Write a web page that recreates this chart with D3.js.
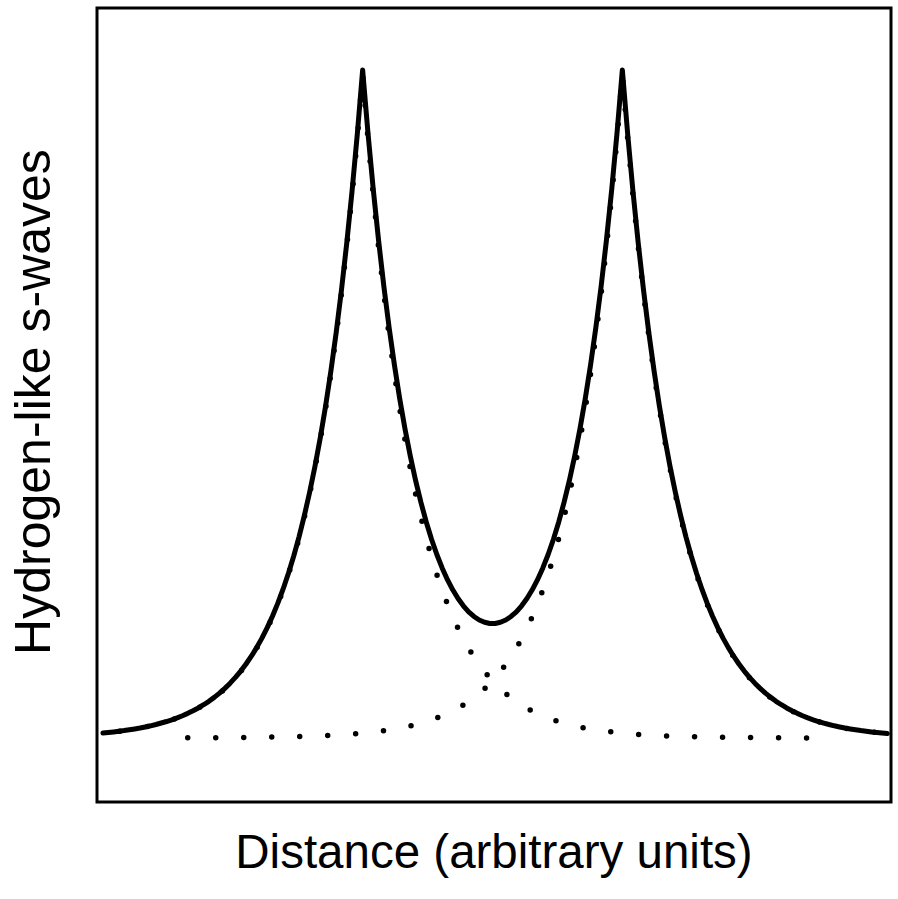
<!DOCTYPE html>
<html>
<head>
<meta charset="utf-8">
<script src="https://cdn.jsdelivr.net/npm/d3@7"></script>
<style>
  html, body { margin: 0; padding: 0; background: #fff; }
  svg { display: block; }
  text { font-family: "Liberation Sans", Arial, Helvetica, sans-serif; fill: #000; }
</style>
</head>
<body>
<svg id="chart" width="898" height="899"></svg>
<script>
// Sample positions (arbitrary distance units); nuclei at -2.45 and 2.45
const xs = [-7.35,-7.25,-7.15,-7.05,-6.95,-6.85,-6.75,-6.65,-6.55,-6.45,
-6.35,-6.25,-6.15,-6.05,-5.95,-5.85,-5.75,-5.65,-5.55,-5.45,
-5.35,-5.25,-5.15,-5.05,-4.95,-4.85,-4.75,-4.65,-4.55,-4.45,
-4.35,-4.25,-4.15,-4.05,-3.95,-3.85,-3.75,-3.65,-3.55,-3.45,
-3.35,-3.25,-3.15,-3.05,-2.95,-2.85,-2.75,-2.65,-2.55,-2.45,
-2.35,-2.25,-2.15,-2.05,-1.95,-1.85,-1.75,-1.65,-1.55,-1.45,
-1.35,-1.25,-1.15,-1.05,-0.95,-0.85,-0.75,-0.65,-0.55,-0.45,
-0.35,-0.25,-0.15,-0.05,0.05,0.15,0.25,0.35,0.45,0.55,
0.65,0.75,0.85,0.95,1.05,1.15,1.25,1.35,1.45,1.55,
1.65,1.75,1.85,1.95,2.05,2.15,2.25,2.35,2.45,2.55,
2.65,2.75,2.85,2.95,3.05,3.15,3.25,3.35,3.45,3.55,
3.65,3.75,3.85,3.95,4.05,4.15,4.25,4.35,4.45,4.55,
4.65,4.75,4.85,4.95,5.05,5.15,5.25,5.35,5.45,5.55,
5.65,5.75,5.85,5.95,6.05,6.15,6.25,6.35,6.45,6.55,
6.65,6.75,6.85,6.95,7.05,7.15,7.25,7.35,7.45];

// s-wave centred on the left nucleus (dotted)
const leftWave = [0.0074,0.0082,0.0091,0.0101,0.0111,0.0123,0.0136,0.0150,0.0166,0.0183,
0.0202,0.0224,0.0247,0.0273,0.0302,0.0334,0.0369,0.0408,0.0450,0.0498,
0.0550,0.0608,0.0672,0.0743,0.0821,0.0907,0.1003,0.1108,0.1225,0.1353,
0.1496,0.1653,0.1827,0.2019,0.2231,0.2466,0.2725,0.3012,0.3329,0.3679,
0.4066,0.4493,0.4966,0.5488,0.6065,0.6703,0.7408,0.8187,0.9048,1.0000,
0.9048,0.8187,0.7408,0.6703,0.6065,0.5488,0.4966,0.4493,0.4066,0.3679,
0.3329,0.3012,0.2725,0.2466,0.2231,0.2019,0.1827,0.1653,0.1496,0.1353,
0.1225,0.1108,0.1003,0.0907,0.0821,0.0743,0.0672,0.0608,0.0550,0.0498,
0.0450,0.0408,0.0369,0.0334,0.0302,0.0273,0.0247,0.0224,0.0202,0.0183,
0.0166,0.0150,0.0136,0.0123,0.0111,0.0101,0.0091,0.0082,0.0074,0.0067,
0.0061,0.0055,0.0050,0.0045,0.0041,0.0037,0.0033,0.0030,0.0027,0.0025,
0.0022,0.0020,0.0018,0.0017,0.0015,0.0014,0.0012,0.0011,0.0010,0.0009,
0.0008,0.0007,0.0007,0.0006,0.0006,0.0005,0.0005,0.0004,0.0004,0.0003,
0.0003,0.0003,0.0002,0.0002,0.0002,0.0002,0.0002,0.0002,0.0001,0.0001,
0.0001,0.0001,0.0001,0.0001,0.0001,0.0001,0.0001,0.0001,0.0001];

// s-wave centred on the right nucleus (dotted)
const rightWave = [0.0001,0.0001,0.0001,0.0001,0.0001,0.0001,0.0001,0.0001,0.0001,0.0001,
0.0002,0.0002,0.0002,0.0002,0.0002,0.0002,0.0003,0.0003,0.0003,0.0004,
0.0004,0.0005,0.0005,0.0006,0.0006,0.0007,0.0007,0.0008,0.0009,0.0010,
0.0011,0.0012,0.0014,0.0015,0.0017,0.0018,0.0020,0.0022,0.0025,0.0027,
0.0030,0.0033,0.0037,0.0041,0.0045,0.0050,0.0055,0.0061,0.0067,0.0074,
0.0082,0.0091,0.0101,0.0111,0.0123,0.0136,0.0150,0.0166,0.0183,0.0202,
0.0224,0.0247,0.0273,0.0302,0.0334,0.0369,0.0408,0.0450,0.0498,0.0550,
0.0608,0.0672,0.0743,0.0821,0.0907,0.1003,0.1108,0.1225,0.1353,0.1496,
0.1653,0.1827,0.2019,0.2231,0.2466,0.2725,0.3012,0.3329,0.3679,0.4066,
0.4493,0.4966,0.5488,0.6065,0.6703,0.7408,0.8187,0.9048,1.0000,0.9048,
0.8187,0.7408,0.6703,0.6065,0.5488,0.4966,0.4493,0.4066,0.3679,0.3329,
0.3012,0.2725,0.2466,0.2231,0.2019,0.1827,0.1653,0.1496,0.1353,0.1225,
0.1108,0.1003,0.0907,0.0821,0.0743,0.0672,0.0608,0.0550,0.0498,0.0450,
0.0408,0.0369,0.0334,0.0302,0.0273,0.0247,0.0224,0.0202,0.0183,0.0166,
0.0150,0.0136,0.0123,0.0111,0.0101,0.0091,0.0082,0.0074,0.0067];

// Combined wave (solid)
const combinedWave = [0.0075,0.0083,0.0092,0.0102,0.0112,0.0124,0.0137,0.0151,0.0167,0.0184,
0.0204,0.0226,0.0249,0.0275,0.0304,0.0336,0.0372,0.0411,0.0453,0.0502,
0.0554,0.0613,0.0677,0.0749,0.0827,0.0914,0.1010,0.1116,0.1234,0.1363,
0.1507,0.1665,0.1841,0.2034,0.2248,0.2484,0.2745,0.3034,0.3354,0.3706,
0.4096,0.4526,0.5003,0.5529,0.6110,0.6753,0.7463,0.8248,0.9115,1.0074,
0.9130,0.8278,0.7509,0.6814,0.6188,0.5624,0.5116,0.4659,0.4249,0.3881,
0.3553,0.3259,0.2998,0.2768,0.2565,0.2388,0.2235,0.2103,0.1994,0.1903,
0.1833,0.1780,0.1746,0.1728,0.1728,0.1746,0.1780,0.1833,0.1903,0.1994,
0.2103,0.2235,0.2388,0.2565,0.2768,0.2998,0.3259,0.3553,0.3881,0.4249,
0.4659,0.5116,0.5624,0.6188,0.6814,0.7509,0.8278,0.9130,1.0074,0.9115,
0.8248,0.7463,0.6753,0.6110,0.5529,0.5003,0.4526,0.4096,0.3706,0.3354,
0.3034,0.2745,0.2484,0.2248,0.2034,0.1841,0.1665,0.1507,0.1363,0.1234,
0.1116,0.1010,0.0914,0.0827,0.0749,0.0677,0.0613,0.0554,0.0502,0.0453,
0.0411,0.0372,0.0336,0.0304,0.0275,0.0249,0.0226,0.0204,0.0184,0.0167,
0.0151,0.0137,0.0124,0.0112,0.0102,0.0092,0.0083,0.0075,0.0068];

// extent over which the dotted single waves are visible in the original
const leftWaveRange = [-7.35, 6.05];
const rightWaveRange = [-5.75, 7.45];

const xDomain = [-7.462, 7.519];
const yDomain = [-0.0965, 1.101];
const xLabel = "Distance (arbitrary units)";
const yLabel = "Hydrogen-like s-waves";

const svg = d3.select("#chart");
const plot = { left: 97, right: 891, top: 8, bottom: 802 };

const x = d3.scaleLinear().domain(xDomain).range([plot.left, plot.right]);
const y = d3.scaleLinear().domain(yDomain).range([plot.bottom, plot.top]);

const line = (vals, range) => d3.line()
  .defined((d, i) => !range || (xs[i] >= range[0] - 1e-9 && xs[i] <= range[1] + 1e-9))
  .x((d, i) => x(xs[i]))
  .y(d => y(d))
  (vals);

// dotted single waves
[[leftWave, leftWaveRange, 11], [rightWave, rightWaveRange, 0]].forEach(([vals, range, offset]) => {
  svg.append("path")
    .attr("d", line(vals, range))
    .attr("fill", "none")
    .attr("stroke", "#000")
    .attr("stroke-width", 5.5)
    .attr("stroke-linecap", "round")
    .attr("stroke-dasharray", "0 28")
    .attr("stroke-dashoffset", offset);
});

// solid combined wave
svg.append("path")
  .attr("d", line(combinedWave))
  .attr("fill", "none")
  .attr("stroke", "#000")
  .attr("stroke-width", 5)
  .attr("stroke-linejoin", "round")
  .attr("stroke-linecap", "round");

// frame
svg.append("rect")
  .attr("x", plot.left)
  .attr("y", plot.top)
  .attr("width", plot.right - plot.left)
  .attr("height", plot.bottom - plot.top)
  .attr("fill", "none")
  .attr("stroke", "#000")
  .attr("stroke-width", 3);

// axis titles
svg.append("text")
  .attr("x", (plot.left + plot.right) / 2)
  .attr("y", 868)
  .attr("text-anchor", "middle")
  .attr("font-size", 47.5)
  .text(xLabel);

svg.append("text")
  .attr("transform", "translate(50,402) rotate(-90)")
  .attr("text-anchor", "middle")
  .attr("font-size", 50)
  .text(yLabel);
</script>
</body>
</html>
